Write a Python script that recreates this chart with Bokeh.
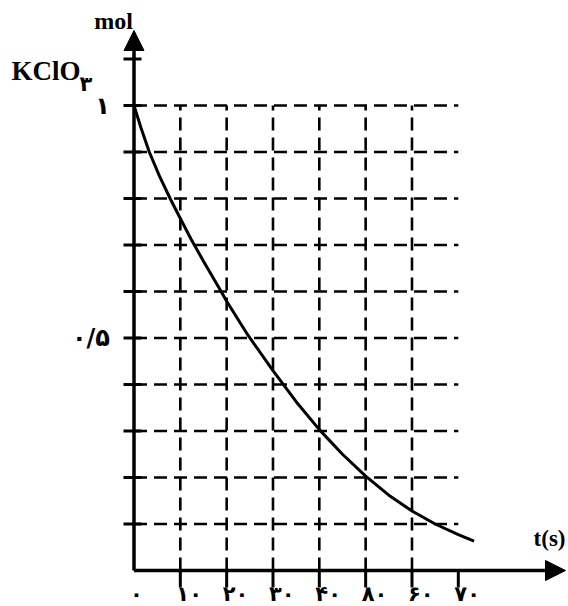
from bokeh.plotting import figure
from bokeh.models import Range1d, Arrow, NormalHead
from bokeh.core.properties import value
from bokeh.embed import file_html
from bokeh.resources import INLINE

# ---- data ----
t_s = [0, 1.5, 3.3, 5.5, 7.8, 10, 12.3, 15, 18.4, 20, 24.6, 30, 35, 40,
       45, 50, 55, 60, 65, 70, 73.4]
mol_kclo3 = [1.0, 0.952, 0.9, 0.848, 0.8, 0.757, 0.713, 0.665, 0.607, 0.579,
             0.506, 0.43, 0.363, 0.303, 0.25, 0.203, 0.162, 0.128, 0.1, 0.077, 0.063]

x_tick_values = [0, 10, 20, 30, 40, 50, 60, 70]
x_tick_labels = ["۰", "۱۰", "۲۰", "۳۰", "۴۰", "۸۰", "۶۰", "۷۰"]
x_grid_values = [10, 20, 30, 40, 50, 60]

y_grid_values = [0.1, 0.2, 0.3, 0.4, 0.5, 0.6, 0.7, 0.8, 0.9, 1.0]
y_tick_values = [0.1, 0.2, 0.3, 0.4, 0.5, 0.6, 0.7, 0.8, 0.9, 1.0, 1.1]
y_label_values = [1.0, 0.5]
y_label_texts = ["۱", "۰/۵"]

# ---- geometry (pixel scale of the reference) ----
W, H = 568, 606
PX_T = 4.633      # pixels per second
PX_M = 465.0      # pixels per mol
X0 = 133.5        # origin x px
Y0 = 570.0        # origin y px (from top)

def dx(px):  # px -> t
    return (px - X0) / PX_T

def dy(py):  # px -> mol
    return (Y0 - py) / PX_M

p = figure(width=W, height=H, output_backend="svg", toolbar_location=None,
           x_range=Range1d(dx(0), dx(W)), y_range=Range1d(dy(H), dy(0)),
           min_border=0, min_border_left=0, min_border_right=0,
           min_border_top=0, min_border_bottom=0)
p.axis.visible = False
p.grid.visible = False
p.outline_line_color = None
p.background_fill_color = "white"
p.border_fill_color = "white"

DASH = "13 7"
GW = 2.6

# horizontal dashed grid lines
p.segment(x0=[0] * len(y_grid_values), y0=y_grid_values,
          x1=[70] * len(y_grid_values), y1=y_grid_values,
          line_color="black", line_width=GW, line_dash=DASH)
# vertical dashed grid lines
p.segment(x0=x_grid_values, y0=[0] * len(x_grid_values),
          x1=x_grid_values, y1=[1.0] * len(x_grid_values),
          line_color="black", line_width=GW, line_dash=DASH)

# y tick marks
p.segment(x0=[dx(123)] * len(y_tick_values), y0=y_tick_values,
          x1=[dx(141)] * len(y_tick_values), y1=y_tick_values,
          line_color="black", line_width=3)
# x tick marks
xt = x_tick_values[1:]
p.segment(x0=xt, y0=[0] * len(xt), x1=xt, y1=[dy(587)] * len(xt),
          line_color="black", line_width=3)

# axes with arrows
p.add_layout(Arrow(x_start=0, y_start=0, x_end=0, y_end=dy(30),
                   line_width=3.5, line_color="black",
                   end=NormalHead(size=20, fill_color="black", line_color="black", line_width=1)))
p.add_layout(Arrow(x_start=0, y_start=0, x_end=dx(565), y_end=0,
                   line_width=3.5, line_color="black",
                   end=NormalHead(size=20, fill_color="black", line_color="black", line_width=1)))

# curve
p.line(t_s, mol_kclo3, line_color="black", line_width=3)

SERIF = value("Liberation Serif")
ARAB = value("DejaVu Sans")

# x tick labels
p.text(x=x_tick_values, y=[0] * len(x_tick_values), text=x_tick_labels,
       x_offset=-4, y_offset=35, text_align="left", text_baseline="bottom",
       text_font=ARAB, text_font_style="bold", text_font_size="21px", text_color="black")

# y tick labels
p.text(x=[0, 0], y=y_label_values, text=y_label_texts,
       x_offset=-24, y_offset=0, text_align="right", text_baseline="middle",
       text_font=ARAB, text_font_style="bold", text_font_size="24px", text_color="black")

# axis titles
p.text(x=[dx(113)], y=[dy(20)], text=["mol"], text_align="center", text_baseline="middle",
       text_font=SERIF, text_font_style="bold", text_font_size="24px", text_color="black")
p.text(x=[dx(11)], y=[dy(70)], text=["KClO"], text_align="left", text_baseline="alphabetic",
       text_font=SERIF, text_font_style="bold", text_font_size="27px", text_color="black")
p.text(x=[dx(79)], y=[dy(83)], text=["۳"], text_align="left", text_baseline="alphabetic",
       text_font=ARAB, text_font_style="bold", text_font_size="21px", text_color="black")
p.text(x=[dx(565)], y=[dy(538)], text=["t(s)"], text_align="right", text_baseline="middle",
       text_font=SERIF, text_font_style="bold", text_font_size="23px", text_color="black")

open("out.html", "w").write(file_html(p, INLINE))
